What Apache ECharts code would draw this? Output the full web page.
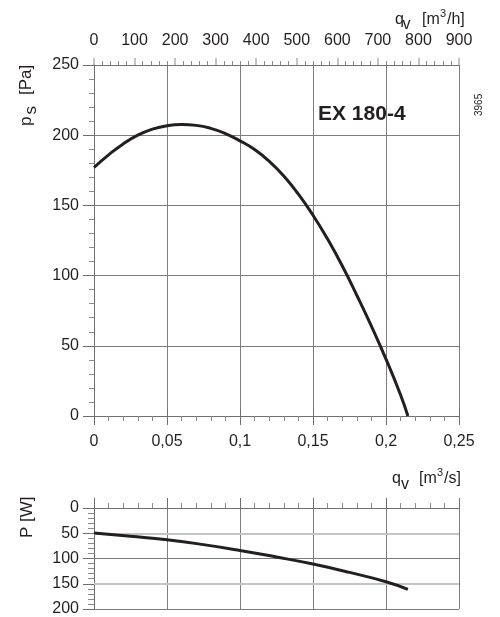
<!DOCTYPE html>
<html>
<head>
<meta charset="utf-8">
<script src="https://cdn.jsdelivr.net/npm/echarts@6/dist/echarts.min.js"></script>
<style>html,body{margin:0;padding:0;background:#fff}#c{width:500px;height:617px}</style>
</head>
<body>
<div id="c"></div>
<script>
// ---- data ----
const flowM3s = [0,0.01,0.02,0.03,0.04,0.05,0.06,0.07,0.08,0.09,0.10,0.11,0.12,0.13,0.14,0.15,0.16,0.17,0.18,0.19,0.20,0.21,0.215];
const pressurePa = [177,186,193.8,200,204.3,206.8,207.6,207,204.9,201.2,196,189.8,181.5,171,158,143,126,107,86,64,40.5,15,0];
const powerFlowM3s = [0,0.025,0.05,0.075,0.1,0.125,0.15,0.175,0.2,0.215];
const powerW = [49.5,56,63,72.5,84,97,111,127.5,146,161];
const pressureTicks = {min:0, max:250, interval:50};
const powerTicks = {min:0, max:200, interval:50};
const flowTicks = {min:0, max:0.25, interval:0.05};
const flowHourTicks = {min:0, max:900, interval:100};
const powerLightLines = [50,150];

const FONT = "'Liberation Sans', Arial, sans-serif";
const INK = '#231f20';
const AX = '#6f6f6f';
const GRIDC = '#7d7d7d';

const chart = echarts.init(document.getElementById('c'), null, {renderer:'canvas'});

function txt(x, baseline, s, size) {
  return {type:'text', x:x, y:baseline - 0.32*size,
    style:{text:s, font:size + 'px ' + FONT, fill:INK, textAlign:'left', textVerticalAlign:'middle', verticalAlign:'middle'}};
}
function rotGroup(gx, gy, children) {
  return {type:'group', x:gx, y:gy, rotation:Math.PI/2, children:children};
}
function rtxt(lx, baselineX, s, size) {
  return {type:'text', x:lx, y:baselineX - 0.32*size,
    style:{text:s, font:size+'px '+FONT, fill:INK, textAlign:'left', textVerticalAlign:'middle', verticalAlign:'middle'}};
}

const fmtComma = v => String(+v.toFixed(3)).replace('.', ',');

const option = {
  animation:false,
  grid:[
    {left:94, top:65, width:365, height:351},
    {left:94, top:508, width:365, height:101},
    {left:94, top:65, width:365, height:351}
  ],
  xAxis:[
    {gridIndex:0, type:'value', position:'bottom', min:flowTicks.min, max:flowTicks.max, interval:flowTicks.interval,
      axisLine:{show:true, onZero:false, lineStyle:{color:AX, width:1}},
      axisTick:{show:true, length:9, lineStyle:{color:AX}},
      minorTick:{show:true, splitNumber:5, length:5, lineStyle:{color:'#8a8a8a'}},
      axisLabel:{formatter:fmtComma, fontSize:16, fontFamily:FONT, color:INK, margin:18},
      splitLine:{show:true, lineStyle:{color:GRIDC, width:1}}},
    {gridIndex:0, type:'value', position:'top', min:flowHourTicks.min, max:flowHourTicks.max, interval:flowHourTicks.interval,
      axisLine:{show:true, onZero:false, lineStyle:{color:AX, width:1}},
      axisTick:{show:true, length:7, lineStyle:{color:'#b0b0b0', width:1.5}},
      minorTick:{show:true, splitNumber:5, length:4, lineStyle:{color:'#8a8a8a'}},
      axisLabel:{fontSize:16, fontFamily:FONT, color:INK, margin:16},
      splitLine:{show:false}},
    {gridIndex:1, type:'value', position:'top', min:flowTicks.min, max:flowTicks.max, interval:flowTicks.interval,
      axisLine:{show:true, onZero:false, lineStyle:{color:AX, width:1}},
      axisTick:{show:true, length:10, lineStyle:{color:AX}},
      minorTick:{show:true, splitNumber:5, length:5, lineStyle:{color:'#8a8a8a'}},
      axisLabel:{show:false},
      splitLine:{show:true, lineStyle:{color:GRIDC, width:1}}},
    {gridIndex:2, type:'value', position:'top', min:flowTicks.min, max:flowTicks.max, interval:flowTicks.interval,
      axisLine:{show:false},
      axisTick:{show:true, length:7, lineStyle:{color:AX}},
      axisLabel:{show:false}, splitLine:{show:false}}
  ],
  yAxis:[
    {gridIndex:0, type:'value', min:pressureTicks.min, max:pressureTicks.max, interval:pressureTicks.interval,
      axisLine:{show:true, onZero:false, lineStyle:{color:AX, width:1}},
      axisTick:{show:true, length:11, lineStyle:{color:AX}},
      minorTick:{show:true, splitNumber:5, length:5, lineStyle:{color:'#8a8a8a'}},
      axisLabel:{fontSize:16, fontFamily:FONT, color:INK, margin:15},
      splitLine:{show:true, lineStyle:{color:GRIDC, width:1}}},
    {gridIndex:1, type:'value', inverse:true, min:powerTicks.min, max:powerTicks.max, interval:powerTicks.interval,
      axisLine:{show:true, onZero:false, lineStyle:{color:AX, width:1}},
      axisTick:{show:true, length:11, lineStyle:{color:AX}},
      minorTick:{show:true, splitNumber:5, length:6, lineStyle:{color:'#8a8a8a'}},
      axisLabel:{fontSize:16, fontFamily:FONT, color:INK, margin:15},
      splitLine:{show:true, lineStyle:{color:[GRIDC,'rgba(0,0,0,0)'], width:1}}},
    {gridIndex:2, type:'value', show:false, min:0, max:1}
  ],
  series:[
    {type:'line', xAxisIndex:2, yAxisIndex:1, data:powerFlowM3s.map((q,i)=>[q,powerW[i]]),
      showSymbol:false, lineStyle:{opacity:0}, silent:true, z:1,
      markLine:{silent:true, symbol:'none', label:{show:false},
        lineStyle:{color:'#c4c4c4', width:2, type:'solid'},
        data:powerLightLines.map(v=>({yAxis:v}))}},
    {type:'line', xAxisIndex:0, yAxisIndex:0, data:flowM3s.map((q,i)=>[q,pressurePa[i]]),
      smooth:0.5, showSymbol:false, lineStyle:{color:INK, width:3}, z:5},
    {type:'line', xAxisIndex:2, yAxisIndex:1, data:powerFlowM3s.map((q,i)=>[q,powerW[i]]),
      smooth:0.5, showSymbol:false, lineStyle:{color:INK, width:3}, z:5}
  ],
  graphic:[
    // top axis title q_v [m3/h]
    txt(395, 24.5, 'q', 16), txt(402.5, 30, 'v', 16), txt(422, 24.5, '[m', 16), txt(440, 17.5, '3', 11), txt(447, 24.5, '/h]', 16),
    // bottom axis title q_v [m3/s]
    txt(392, 483.5, 'q', 16), txt(401, 489.5, 'v', 16), txt(419, 483.5, '[m', 16), txt(437, 476.5, '3', 11), txt(444, 483.5, '/s]', 16),
    // model name
    {type:'text', x:318, y:121 - 0.32*21, style:{text:'EX 180-4', font:'bold 21px '+FONT, fill:INK, textAlign:'left', verticalAlign:'middle', textVerticalAlign:'middle'}},
    // rotated labels
    rotGroup(0, 126, [rtxt(0, 31.5, 'p', 17), rtxt(11.5, 37, 's', 17), rtxt(31, 31.5, '[Pa]', 17)]),
    rotGroup(0, 538, [rtxt(0, 33, 'P [W]', 17)]),
    rotGroup(0, 116, [rtxt(0, 482.5, '3965', 10)])
  ]
};
chart.setOption(option);
</script>
</body>
</html>
